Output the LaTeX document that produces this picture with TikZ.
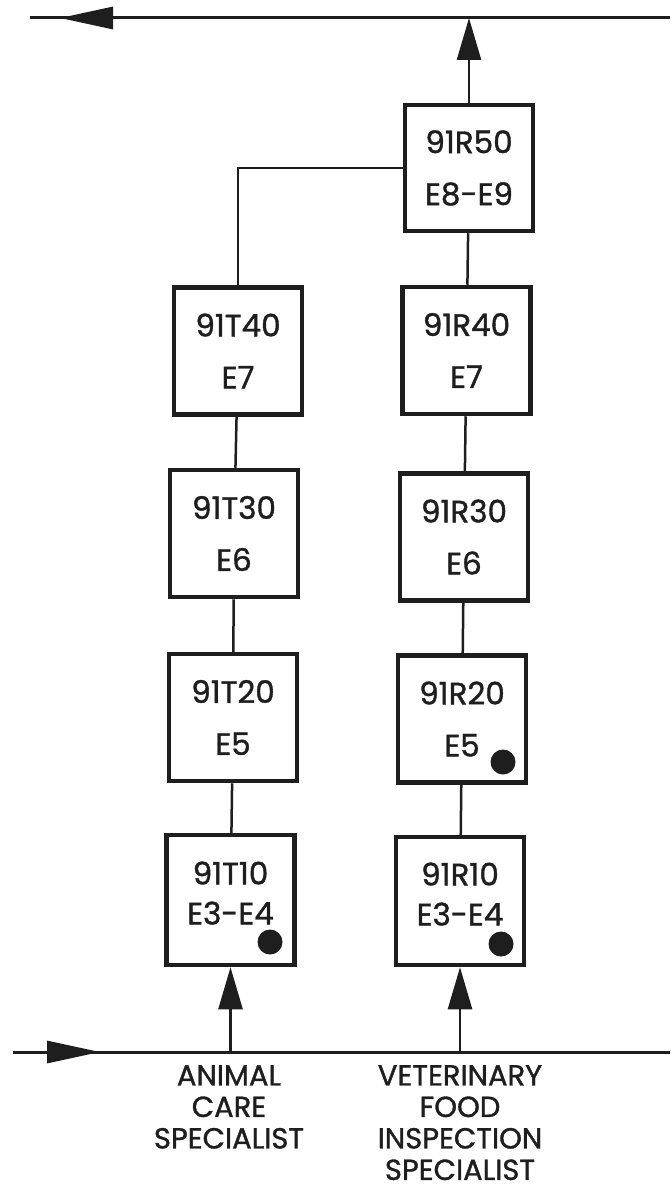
\documentclass[tikz,border=0pt]{standalone}
\usepackage{fontspec}
\setmainfont{Poppins}[FakeBold=1.2]
\usetikzlibrary{arrows.meta}
\definecolor{ink}{RGB}{30,30,30}
\begin{document}
\begin{tikzpicture}[x=1pt,y=-1pt,
  cbox/.style={draw=ink,line width=4.5pt,minimum width=128pt,minimum height=127pt,inner sep=0pt,align=center,font=\fontsize{31}{52}\selectfont,text=ink},
  lowtext/.style={font=\fontsize{31}{40}\selectfont,text depth=14pt},
  link/.style={draw=ink,line width=2.5pt},
  mainline/.style={draw=ink,line width=3pt},
  upar/.style={link,-{Triangle[length=42pt,width=24pt]}},
  hzar/.style={mainline,-{Triangle[length=53pt,width=22pt]}},
  spot/.style={circle,fill=ink,minimum size=25pt,inner sep=0pt},
  lbl/.style={align=center,inner sep=0pt,font=\fontsize{29}{31.5}\selectfont,text=ink}
]
\useasboundingbox (0,0) rectangle (670,1190);

% boxes
\node[cbox, minimum height=126pt] (R50) at (469,168) {91R50\\E8-E9};
\node[cbox] (T40) at (238,351) {91T40\\E7};
\node[cbox] (R40) at (466.5,350.5) {91R40\\E7};
\node[cbox] (T30) at (234,533.5) {91T30\\E6};
\node[cbox] (R30) at (464,537) {91R30\\E6};
\node[cbox] (T20) at (233,717.5) {91T20\\E5};
\node[cbox] (R20) at (462,719) {91R20\\E5};
\node[cbox,lowtext,minimum height=130pt] (T10) at (230.5,900) {91T10\\E3-E4};
\node[cbox,lowtext,minimum height=128pt] (R10) at (460,901) {91R10\\E3-E4};

% dots
\node[spot] (d1) at (270,942) {};
\node[spot] (d2) at (501,944) {};
\node[spot] (d3) at (503,762) {};

% vertical links
\draw[link] (T40) -- (T30);
\draw[link] (T30) -- (T20);
\draw[link] (T20) -- (T10);
\draw[link] (R50) -- (R40);
\draw[link] (R40) -- (R30);
\draw[link] (R30) -- (R20);
\draw[link] (R20) -- (R10);
\draw[link] (T40.north) |- (R50.west);

% top line
\coordinate (TR) at (670,18);
\coordinate (TL) at (30,18);
\coordinate (TA) at (113,18);
\coordinate (TT) at (60,18);
\draw[mainline] (TR) -- (TL);
\draw[hzar] (TA) -- (TT);
\coordinate (T1) at (469,18);
\draw[upar] (R50.north) -- (T1);

% bottom line
\coordinate (BL) at (13,1052);
\coordinate (BR) at (670,1052);
\coordinate (BA) at (47,1052);
\coordinate (BT) at (100,1052);
\draw[mainline] (BL) -- (BR);
\draw[hzar] (BA) -- (BT);
\coordinate (B1) at (230.5,1052);
\coordinate (B2) at (460,1052);
\draw[upar] (B1) -- (T10.south);
\draw[upar] (B2) -- (R10.south);

% labels
\node[lbl,anchor=north] (L1) at (229,1065) {ANIMAL\\CARE\\SPECIALIST};
\node[lbl,anchor=north] (L2) at (460,1065) {VETERINARY\\FOOD\\INSPECTION\\SPECIALIST};
\end{tikzpicture}
\end{document}
